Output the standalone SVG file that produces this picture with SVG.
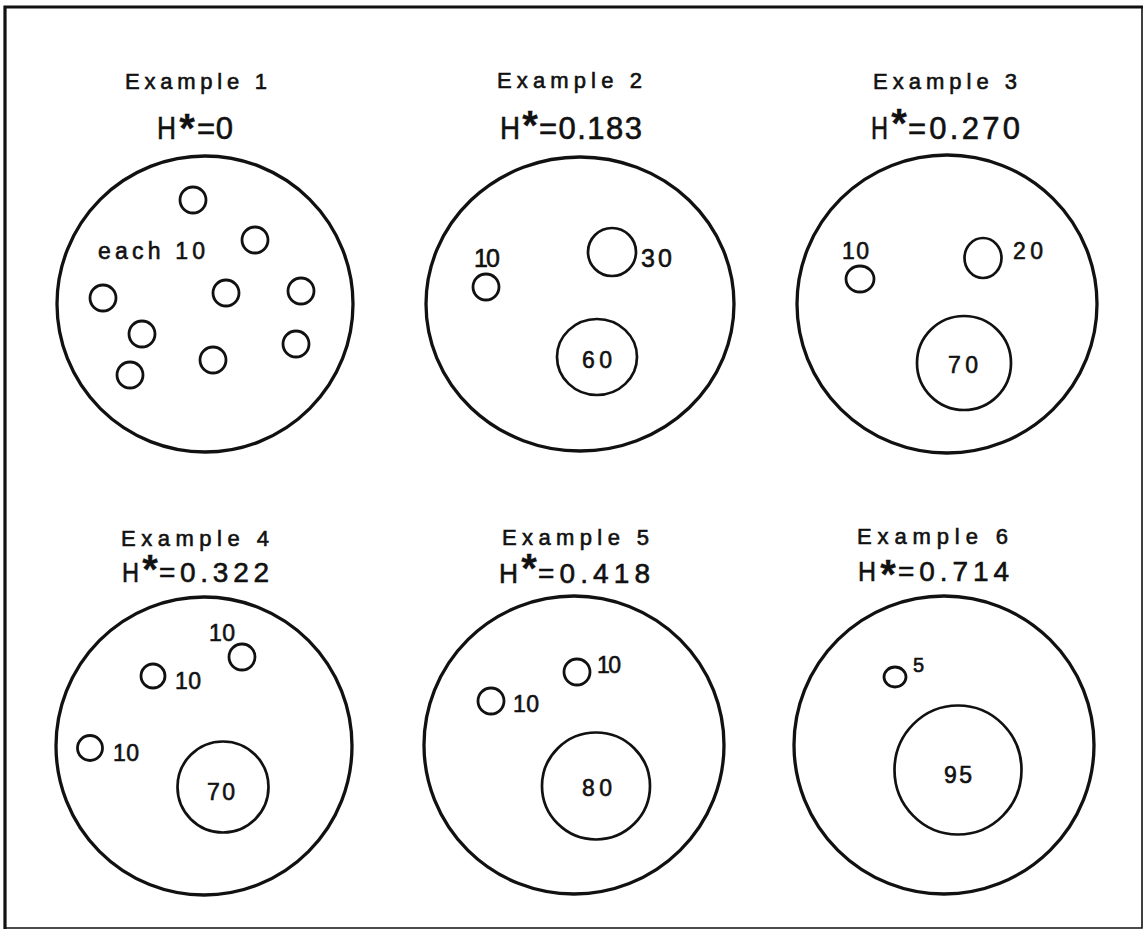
<svg xmlns="http://www.w3.org/2000/svg" width="1144" height="929" viewBox="0 0 1144 929">
<style>
text{font-family:"Liberation Sans",Arial,sans-serif;fill:#111;stroke:#111;stroke-width:0.6}
.t{font-size:22px}
.h1{font-size:31px}
.h2{font-size:28px}
.ast{font-size:40px;font-weight:bold;text-anchor:middle;stroke-width:0.3}
.n{font-size:23px}
.n25{font-size:25px}
.big{fill:none;stroke:#111;stroke-width:3.3}
.s{fill:none;stroke:#111;stroke-width:2.8}
.m{fill:none;stroke:#111;stroke-width:2.7}
</style>
<rect width="1144" height="929" fill="#fff"/>
<g id="frame" stroke="#111" fill="none">
<path d="M5 929 V7 H1143" stroke-width="3.2"/>
<path d="M1142 7 V928 H5" stroke-width="1.6"/>
</g>

<g id="example1">
<text class="t" x="125" y="89" textLength="142" lengthAdjust="spacing">Example 1</text>
<text class="h1" y="139"><tspan x="157" textLength="19" lengthAdjust="spacingAndGlyphs">H</tspan><tspan class="ast" x="187" y="142">*</tspan><tspan x="197" y="139" textLength="36" lengthAdjust="spacing">=0</tspan></text>
<ellipse class="big" cx="205" cy="304" rx="148" ry="148"/>
<text class="n" x="98" y="259" textLength="107" lengthAdjust="spacing">each 10</text>
<circle class="s" cx="193" cy="200" r="13"/>
<circle class="s" cx="255" cy="240" r="13"/>
<circle class="s" cx="103" cy="298" r="13"/>
<circle class="s" cx="226" cy="293" r="13"/>
<circle class="s" cx="301" cy="291" r="13"/>
<circle class="s" cx="142" cy="334" r="13"/>
<circle class="s" cx="296" cy="344" r="13"/>
<circle class="s" cx="213" cy="360" r="13"/>
<circle class="s" cx="130" cy="375" r="13"/>
</g>

<g id="example2">
<text class="t" x="497" y="88" textLength="145" lengthAdjust="spacing">Example 2</text>
<text class="h1" y="139"><tspan x="500" textLength="20" lengthAdjust="spacingAndGlyphs">H</tspan><tspan class="ast" x="530" y="139">*</tspan><tspan x="539" y="139" textLength="103" lengthAdjust="spacing">=0.183</tspan></text>
<ellipse class="big" cx="580" cy="304" rx="154" ry="147"/>
<circle class="s" cx="486" cy="287" r="13"/>
<text class="n25" x="474" y="267" textLength="26" lengthAdjust="spacing">10</text>
<circle class="m" cx="612" cy="252" r="24"/>
<text class="n25" x="641" y="267" textLength="31" lengthAdjust="spacing">30</text>
<ellipse class="m" cx="597" cy="357" rx="40" ry="38"/>
<text class="n" x="582" y="368" textLength="30" lengthAdjust="spacing">60</text>
</g>

<g id="example3">
<text class="t" x="873" y="89" textLength="144" lengthAdjust="spacing">Example 3</text>
<text class="h1" y="139"><tspan x="871" textLength="17" lengthAdjust="spacingAndGlyphs">H</tspan><tspan class="ast" x="899" y="137">*</tspan><tspan x="908" y="139" textLength="112" lengthAdjust="spacing">=0.270</tspan></text>
<ellipse class="big" cx="947" cy="304" rx="150" ry="149"/>
<ellipse class="s" cx="860" cy="279" rx="14" ry="13"/>
<text class="n" x="842" y="259" textLength="27" lengthAdjust="spacing">10</text>
<ellipse class="m" cx="983" cy="258" rx="18.5" ry="20"/>
<text class="n" x="1013" y="259" textLength="30" lengthAdjust="spacing">20</text>
<circle class="m" cx="964" cy="363" r="47"/>
<text class="n" x="948" y="373" textLength="30" lengthAdjust="spacing">70</text>
</g>

<g id="example4">
<text class="t" x="121" y="546" textLength="148" lengthAdjust="spacing">Example 4</text>
<text class="h2" y="582"><tspan x="122" textLength="17" lengthAdjust="spacingAndGlyphs">H</tspan><tspan class="ast" x="150" y="583">*</tspan><tspan x="159" y="582" textLength="110" lengthAdjust="spacing">=0.322</tspan></text>
<ellipse class="big" cx="204" cy="746" rx="148" ry="149"/>
<circle class="s" cx="242" cy="657" r="13"/>
<text class="n" x="209" y="641" textLength="26" lengthAdjust="spacing">10</text>
<circle class="s" cx="153" cy="676" r="12"/>
<text class="n" x="175" y="689" textLength="26" lengthAdjust="spacing">10</text>
<circle class="s" cx="90" cy="748" r="12.5"/>
<text class="n" x="113" y="761" textLength="26" lengthAdjust="spacing">10</text>
<circle class="m" cx="223" cy="787" r="45.5"/>
<text class="n" x="207" y="800" textLength="28" lengthAdjust="spacing">70</text>
</g>

<g id="example5">
<text class="t" x="502" y="545" textLength="147" lengthAdjust="spacing">Example 5</text>
<text class="h2" y="583"><tspan x="499" textLength="19" lengthAdjust="spacingAndGlyphs">H</tspan><tspan class="ast" x="529" y="582">*</tspan><tspan x="538" y="583" textLength="112" lengthAdjust="spacing">=0.418</tspan></text>
<ellipse class="big" cx="574" cy="745" rx="150" ry="149"/>
<circle class="s" cx="577" cy="672" r="13"/>
<text class="n" x="597" y="673" textLength="24" lengthAdjust="spacing">10</text>
<circle class="s" cx="491" cy="701" r="13"/>
<text class="n" x="513" y="712" textLength="26" lengthAdjust="spacing">10</text>
<ellipse class="m" cx="596" cy="786" rx="54" ry="53.5"/>
<text class="n" x="582" y="796" textLength="30" lengthAdjust="spacing">80</text>
</g>

<g id="example6">
<text class="t" x="857" y="544" textLength="151" lengthAdjust="spacing">Example 6</text>
<text class="h2" y="581"><tspan x="858" textLength="18" lengthAdjust="spacingAndGlyphs">H</tspan><tspan class="ast" x="888" y="588">*</tspan><tspan x="898" y="581" textLength="111" lengthAdjust="spacing">=0.714</tspan></text>
<ellipse class="big" cx="944" cy="745" rx="150" ry="149"/>
<ellipse class="s" cx="895" cy="677" rx="11" ry="10"/>
<text class="n" x="913" y="672" style="font-size:20px">5</text>
<ellipse class="m" cx="958" cy="770" rx="63.5" ry="64.5"/>
<text class="n" x="944" y="783" textLength="28" lengthAdjust="spacing">95</text>
</g>
</svg>
